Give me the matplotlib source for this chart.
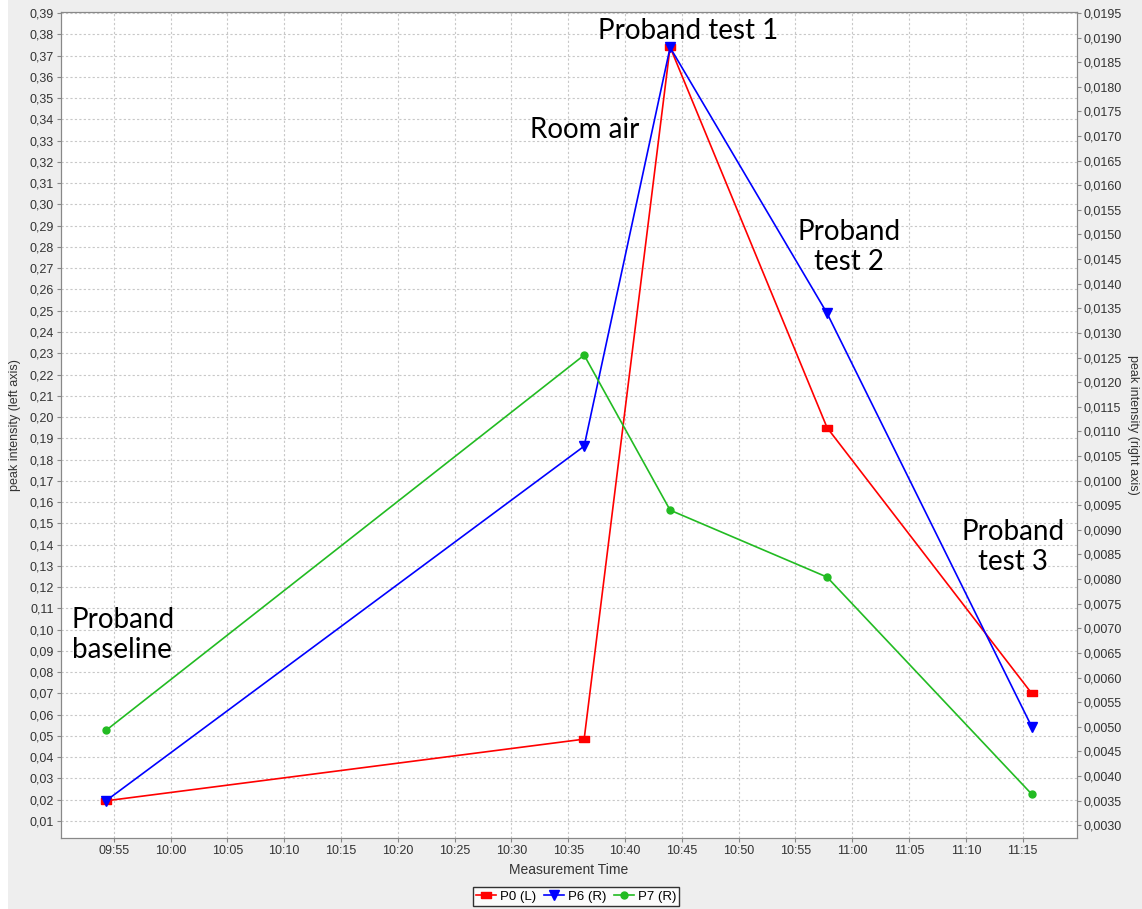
import matplotlib
matplotlib.use('Agg')
import matplotlib.pyplot as plt
import matplotlib.dates as mdates
from matplotlib.ticker import MultipleLocator, FuncFormatter
from matplotlib.patches import Rectangle
from datetime import datetime
import numpy as np

# measurement times and peak intensities
times = ['09:54:20', '10:36:24', '10:43:58', '10:57:47', '11:15:48']
p0_left = [0.0195, 0.0485, 0.374, 0.195, 0.070]
p6_right = [0.0035, 0.0107, 0.0188, 0.0134, 0.0050]
p7_right = [0.00493, 0.01255, 0.0094, 0.00804, 0.00363]

notes = ['Proband\nbaseline', 'Room air', 'Proband test 1', 'Proband\ntest 2', 'Proband\ntest 3']

t = [datetime.strptime('2020-01-01 ' + s, '%Y-%m-%d %H:%M:%S') for s in times]
t0 = datetime(2020, 1, 1, 9, 50, 21)
t1 = datetime(2020, 1, 1, 11, 19, 47)

bg = '#eeeeee'
fig = plt.figure(figsize=(11.42, 9.09), dpi=100, facecolor='white')
fig.patches.append(Rectangle((8/1142, 0), 1, 1, transform=fig.transFigure,
                             facecolor=bg, edgecolor='none', zorder=-10))

ax = fig.add_axes([61/1142, 71/909, 1016/1142, 826/909])
ax2 = ax.twinx()

rect = [(-1, -0.6), (1, -0.6), (1, 0.6), (-1, 0.6), (-1, -0.6)]
l0, = ax.plot(t, p0_left, color='#ff0000', lw=1.2, marker=rect, ms=7, label='P0 (L)')
l6, = ax2.plot(t, p6_right, color='#0000ff', lw=1.2, marker='v', ms=7, label='P6 (R)')
l7, = ax2.plot(t, p7_right, color='#22bb22', lw=1.2, marker='o', ms=5, label='P7 (R)')

ax.set_xlim(t0, t1)
ax.set_ylim(0.002, 0.3905)
ax2.set_ylim(0.00274, 0.01952)

ax.xaxis.set_major_locator(mdates.MinuteLocator(byminute=range(0, 60, 5)))
ax.xaxis.set_major_formatter(mdates.DateFormatter('%H:%M'))
ax.yaxis.set_major_locator(MultipleLocator(0.01))
ax.yaxis.set_major_formatter(FuncFormatter(lambda v, p: ('%.2f' % v).replace('.', ',') if v > 0.005 else ''))
ax2.yaxis.set_major_locator(MultipleLocator(0.0005))
ax2.yaxis.set_major_formatter(FuncFormatter(lambda v, p: ('%.4f' % v).replace('.', ',')))

for a in (ax, ax2):
    a.tick_params(length=3, width=0.8, color='#888888', labelsize=9, labelcolor='#333333', pad=2)
    for lab in a.get_xticklabels() + a.get_yticklabels():
        lab.set_family('Liberation Sans')
    for s in a.spines.values():
        s.set_color('#888888')

ax.grid(True, color='#c8c8c8', linestyle=(0, (2, 2)), linewidth=0.8)
ax.set_axisbelow(True)

ax.set_xlabel('Measurement Time', fontsize=10, family='Liberation Sans', color='#333333', labelpad=4)
ax.set_ylabel('peak intensity (left axis)', fontsize=9, family='Liberation Sans', color='#333333', labelpad=6)
ax2.set_ylabel('peak intensity (right axis)', fontsize=9, family='Liberation Sans', color='#333333',
               rotation=270, labelpad=12)

# annotations placed in pixel coordinates of the figure
note_xy = [(72, 635, 'left'), (585, 130, 'center'), (688, 31, 'center'),
           (849, 247, 'center'), (1013, 547, 'center')]
for txt, (x, y, ha) in zip(notes, note_xy):
    fig.text(x/1142, 1 - y/909, txt, ha=ha, va='center', fontsize=20, family='Lato',
             linespacing=1.2)

leg = fig.legend(handles=[l0, l6, l7], loc='upper center', bbox_to_anchor=(576/1142, 1 - 887/909),
                 ncol=3, frameon=True, fancybox=False, edgecolor='black',
                 handlelength=1.5, columnspacing=0.6, handletextpad=0.3, borderpad=0.25,
                 borderaxespad=0, prop={'family': 'Liberation Sans', 'size': 9.5})
leg.get_frame().set_linewidth(1.0)

plt.savefig('out.png', dpi=100, facecolor=fig.get_facecolor())
